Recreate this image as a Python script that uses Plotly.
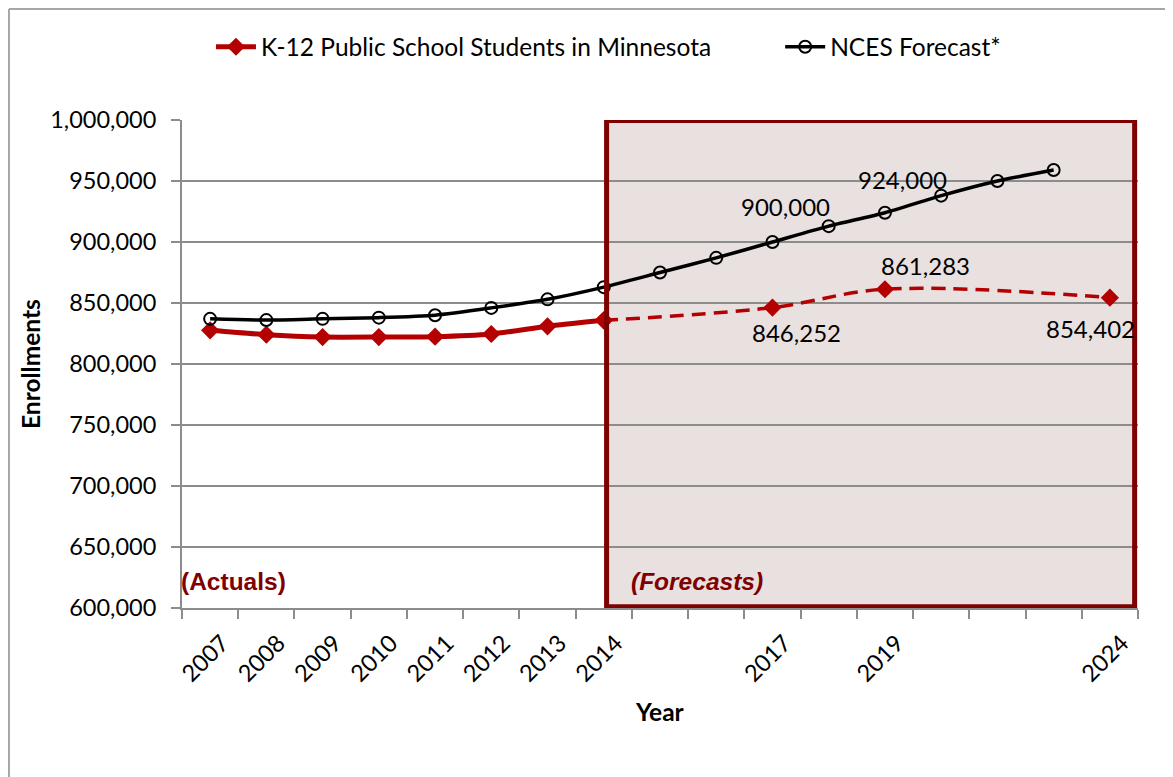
import plotly.graph_objects as go

# ---- data ----
slot_labels = ["2007", "2008", "2009", "2010", "2011", "2012", "2013", "2014",
               "", "", "2017", "", "2019", "", "", "", "2024"]
slot_index = list(range(len(slot_labels)))

actual_slots = [0, 1, 2, 3, 4, 5, 6, 7]
actual_values = [827600, 824000, 822100, 822100, 822400, 824600, 830900, 835800]

forecast_slots = [7, 10, 12, 16]
forecast_values = [835800, 846252, 861283, 854402]

nces_slots = list(range(16))
nces_values = [837000, 836000, 837000, 838000, 840000, 846000, 853000, 863000,
               875000, 887000, 900000, 913000, 924000, 938000, 950000, 959000]

y_ticks = [600000, 650000, 700000, 750000, 800000, 850000, 900000, 950000, 1000000]

RED = "#B40000"
DARK_RED = "#7F0000"
FONT = "Lato, Carlito, Calibri, sans-serif"
GRID = "#8C8C8C"

fig = go.Figure()

fig.add_trace(go.Scatter(
    x=actual_slots, y=actual_values, mode="lines+markers",
    name="K-12 Public School Students in Minnesota", legend="legend",
    line=dict(color=RED, width=5, shape="spline", smoothing=0.6),
    marker=dict(symbol="diamond", size=14, color=RED),
))
fig.add_trace(go.Scatter(
    x=forecast_slots, y=forecast_values, mode="lines+markers",
    showlegend=False,
    line=dict(color=RED, width=3.5, dash="14px,8px", shape="spline", smoothing=1),
    marker=dict(symbol="diamond", size=14, color=RED),
))
fig.add_trace(go.Scatter(
    x=nces_slots, y=nces_values, mode="lines+markers",
    name="NCES Forecast*", legend="legend2",
    line=dict(color="black", width=3.5, shape="spline", smoothing=0.6),
    marker=dict(symbol="circle-open", size=12, color="black", line=dict(width=2)),
))

# forecast region box
fig.add_shape(type="rect", xref="x", yref="y", x0=7.05, x1=16.44,
              y0=601000, y1=999600, fillcolor="#E9E0E0",
              line=dict(width=0), layer="below")
fig.add_shape(type="rect", xref="x", yref="y", x0=7.05, x1=16.44,
              y0=601000, y1=999600, fillcolor="rgba(0,0,0,0)",
              line=dict(color=DARK_RED, width=5), layer="above")

# outer chart border (top and left)
fig.add_shape(type="line", xref="paper", yref="paper", x0=-0.181, x1=1.04,
              y0=1.2275, y1=1.2275, line=dict(color="#A6A6A6", width=2))
fig.add_shape(type="line", xref="paper", yref="paper", x0=-0.181, x1=-0.181,
              y0=-0.36, y1=1.2275, line=dict(color="#A6A6A6", width=2))

# data labels
def lab(xv, yv, xs, ys):
    fig.add_annotation(x=xv, y=yv, xref="x", yref="y", text=f"{yv:,}",
                       showarrow=False, xshift=xs, yshift=ys,
                       font=dict(family=FONT, size=24, color="black"))

lab(nces_slots[10], nces_values[10], 13, 36)
lab(nces_slots[12], nces_values[12], 18, 33)
lab(forecast_slots[1], forecast_values[1], 24, -25)
lab(forecast_slots[2], forecast_values[2], 41, 24)
lab(forecast_slots[3], forecast_values[3], -19, -31)

fig.add_annotation(x=-0.003, y=0.055, xref="paper", yref="paper", text="<b>(Actuals)</b>",
                   showarrow=False, xanchor="left", yanchor="middle",
                   font=dict(family="Liberation Sans, Arial, sans-serif", size=24.5, color=DARK_RED))
fig.add_annotation(x=0.4676, y=0.055, xref="paper", yref="paper", text="<b><i>(Forecasts)</i></b>",
                   showarrow=False, xanchor="left", yanchor="middle",
                   font=dict(family="Liberation Sans, Arial, sans-serif", size=24.5, color=DARK_RED))

# axis titles
fig.add_annotation(x=-0.159, y=0.5, xref="paper", yref="paper", text="<b>Enrollments</b>",
                   showarrow=False, textangle=-90, xanchor="center", yanchor="middle",
                   font=dict(family=FONT, size=24.5, color="black"))
fig.add_annotation(x=0.5, y=-0.213, xref="paper", yref="paper", text="<b>Year</b>",
                   showarrow=False, xanchor="center", yanchor="middle",
                   font=dict(family=FONT, size=24.5, color="black"))

legend_common = dict(orientation="h", xanchor="left", y=1.15, yanchor="middle",
                     font=dict(family=FONT, size=24.5, color="black"),
                     bgcolor="rgba(0,0,0,0)", itemwidth=40)

fig.update_layout(
    width=1165, height=769,
    margin=dict(l=174, r=35, t=112, b=169, autoexpand=False),
    paper_bgcolor="white", plot_bgcolor="white",
    font=dict(family=FONT, size=23, color="black"),
    showlegend=True,
    legend=dict(x=0.0303, **legend_common),
    legend2=dict(x=0.6257, **legend_common),
    xaxis=dict(range=[-0.5, 16.5], tickmode="array", tickvals=slot_index,
               ticktext=slot_labels, tickangle=-45, ticks="",
               showgrid=False, zeroline=False, showline=True,
               linecolor=GRID, linewidth=2,
               ticklabelstandoff=10, ticklabelshift=12,
               tickfont=dict(family=FONT, size=23.5, color="black"),
               minor=dict(tickmode="array",
                          tickvals=[i - 0.5 for i in range(len(slot_labels) + 1)],
                          ticks="outside", ticklen=9, tickcolor=GRID, tickwidth=2,
                          showgrid=False)),
    yaxis=dict(range=[600000, 1000000], tickmode="array", tickvals=y_ticks,
               tickformat=",d", ticks="outside", ticklen=9, tickcolor=GRID, tickwidth=2,
               showgrid=True, gridcolor=GRID, gridwidth=2, zeroline=False,
               showline=True, linecolor=GRID, linewidth=2,
               ticklabelstandoff=10,
               tickfont=dict(family=FONT, size=23.5, color="black")),
)

fig.write_html("out.html")
